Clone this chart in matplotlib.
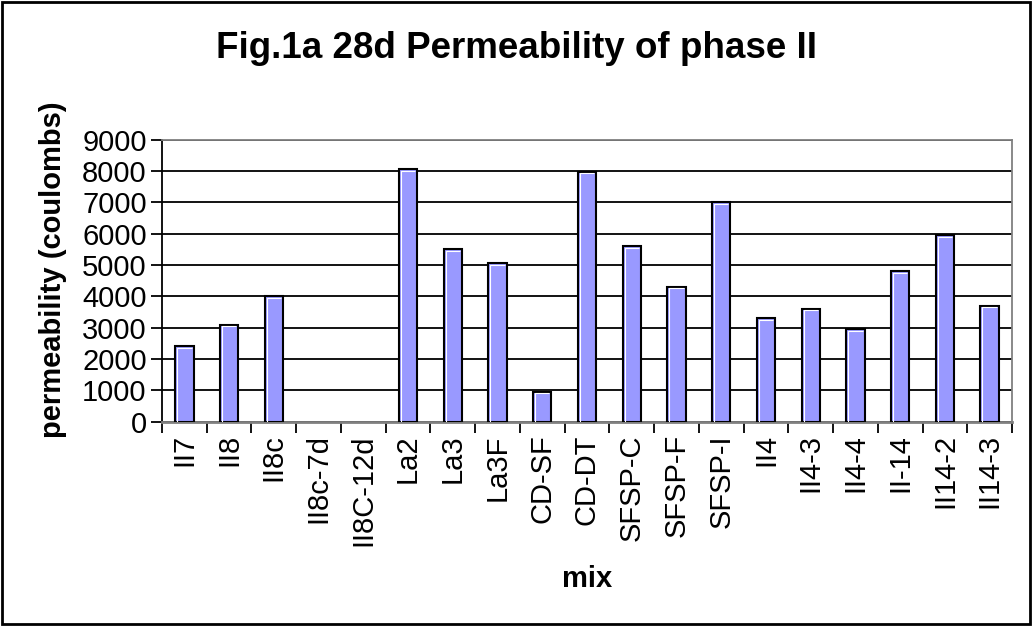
import matplotlib.pyplot as plt
import numpy as np
from matplotlib.patches import Rectangle

plt.rcParams['font.family'] = ['Liberation Sans', 'DejaVu Sans']

mixes = ["II7", "II8", "II8c", "II8c-7d", "II8C-12d", "La2", "La3", "La3F",
         "CD-SF", "CD-DT", "SFSP-C", "SFSP-F", "SFSP-I", "II4", "II4-3",
         "II4-4", "II-14", "II14-2", "II14-3"]
permeability = [2400, 3100, 4000, 0, 0, 8050, 5500, 5050,
                950, 7980, 5600, 4300, 7000, 3300, 3600,
                2950, 4800, 5950, 3700]
y_ticks = [0, 1000, 2000, 3000, 4000, 5000, 6000, 7000, 8000, 9000]

fig = plt.figure(figsize=(10.32, 6.26), dpi=100)
ax = fig.add_axes([162 / 1032, 1 - 421.7 / 626, 850 / 1032, 282.1 / 626])

x = np.arange(len(mixes))
w = 0.41
lws = [1.5 if v > 0 else 0 for v in permeability]
ax.bar(x, permeability, width=w, color="#9999FF", edgecolor="black",
       linewidth=lws, zorder=3)

# white highlight along the top and left inside of each bar
for xi, v in zip(x, permeability):
    if v > 0:
        ax.plot([xi - w / 2 + 0.045, xi - w / 2 + 0.045, xi + w / 2 - 0.045],
                [0, v - 45, v - 45], color="white", lw=0.8, zorder=4,
                solid_capstyle="butt")

ax.set_xlim(-0.5, len(mixes) - 0.5)
ax.set_ylim(0, 9000)
ax.set_yticks(y_ticks)
ax.set_yticklabels([str(t) for t in y_ticks], fontsize=21)
ax.yaxis.grid(True, color="black", linewidth=1.3, zorder=1)
ax.set_axisbelow(True)

ax.set_xticks(x)
ax.set_xticklabels(mixes, rotation=90, fontsize=21)
ax.set_xticks(np.arange(-0.5, len(mixes)), minor=True)
ax.tick_params(axis="x", which="major", length=0, pad=9)
ax.tick_params(axis="x", which="minor", length=8, width=1.3, color="black")
ax.tick_params(axis="y", length=8, width=1.3, pad=3)

ax.spines["left"].set_linewidth(1.3)
ax.spines["bottom"].set_color("#808080")
ax.spines["bottom"].set_linewidth(2)
ax.spines["top"].set_color("#808080")
ax.spines["top"].set_linewidth(1.3)
ax.spines["right"].set_color("#808080")
ax.spines["right"].set_linewidth(1.3)

ax.set_xlabel("mix", fontsize=21, fontweight="bold", labelpad=14)
ax.set_ylabel("permeability (coulombs)", fontsize=21, fontweight="bold")
ax.yaxis.set_label_coords(-0.112, 0.54)

fig.text(0.5, 1 - 48 / 626, "Fig.1a 28d Permeability of phase II", ha="center",
         va="center", fontsize=26.5, fontweight="bold")

fig.patches.append(Rectangle((0.002, 0.003), 0.996, 0.994, transform=fig.transFigure,
                             fill=False, edgecolor="black", linewidth=2))

fig.savefig("out.png", dpi=100)
